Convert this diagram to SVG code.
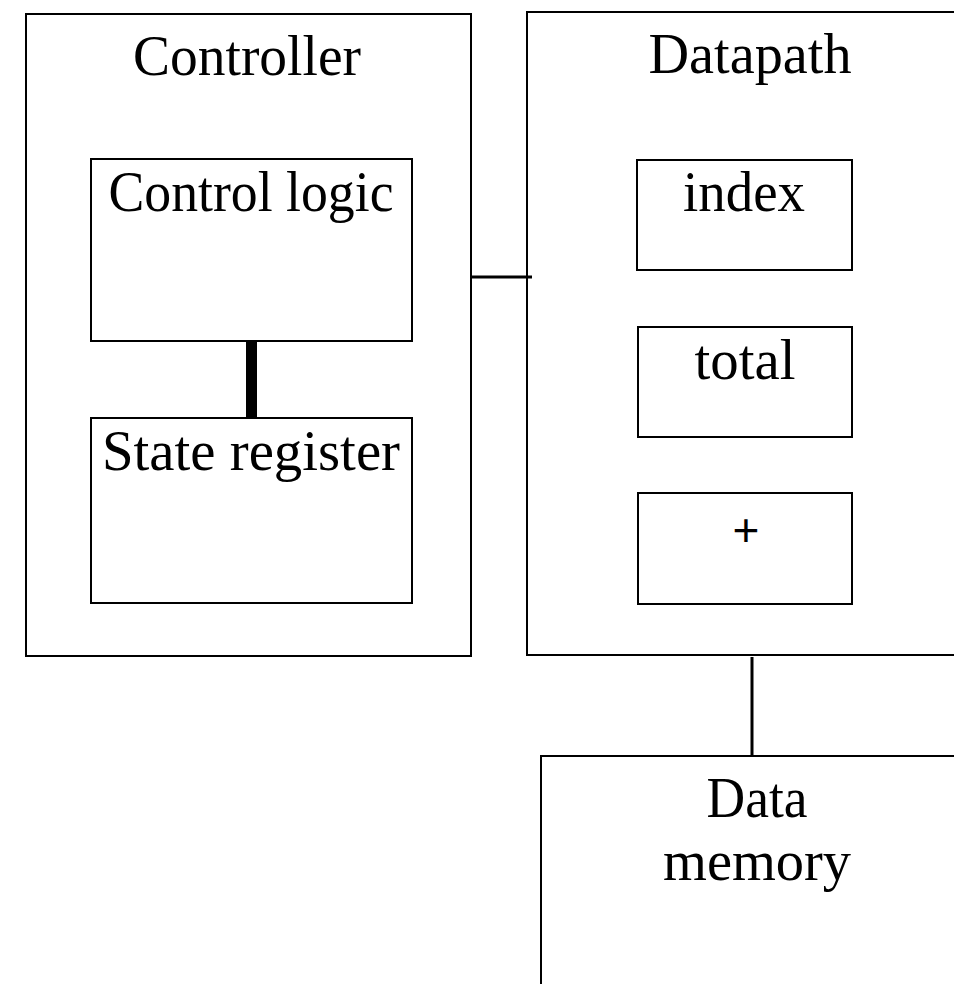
<svg xmlns="http://www.w3.org/2000/svg" width="954" height="984" viewBox="0 0 954 984">
<style>
.box{fill:#fff;stroke:#000;stroke-width:2}
.t{font-family:"Liberation Serif","DejaVu Serif",serif;font-size:56px;fill:#000;text-anchor:middle}
.p{font-family:"Liberation Sans","DejaVu Sans",sans-serif;font-size:46px;fill:#000;text-anchor:middle}
.c{stroke:#000;fill:none}
</style>
<rect width="954" height="984" fill="#fff"/>
<g id="controller">
<rect class="box" x="26" y="14" width="445" height="642"/>
<text class="t" x="247" y="75" textLength="228" lengthAdjust="spacingAndGlyphs">Controller</text>
</g>
<g id="control-logic">
<rect class="box" x="91" y="159" width="321" height="182"/>
<text class="t" x="251" y="211" textLength="285" lengthAdjust="spacingAndGlyphs">Control logic</text>
</g>
<g id="state-register">
<rect class="box" x="91" y="418" width="321" height="185"/>
<text class="t" x="251" y="470" textLength="298" lengthAdjust="spacingAndGlyphs">State register</text>
</g>
<g id="datapath">
<rect class="box" x="527" y="12" width="440" height="643"/>
<text class="t" x="750" y="73" textLength="203" lengthAdjust="spacingAndGlyphs">Datapath</text>
</g>
<g id="index">
<rect class="box" x="637" y="160" width="215" height="110"/>
<text class="t" x="744" y="211" textLength="122" lengthAdjust="spacingAndGlyphs">index</text>
</g>
<g id="total">
<rect class="box" x="638" y="327" width="214" height="110"/>
<text class="t" x="745" y="379" textLength="101" lengthAdjust="spacingAndGlyphs">total</text>
</g>
<g id="adder">
<rect class="box" x="638" y="493" width="214" height="111"/>
<text class="p" x="746" y="546">+</text>
</g>
<g id="data-memory">
<rect class="box" x="541" y="756" width="440" height="260"/>
<text class="t" x="757" y="817" textLength="101" lengthAdjust="spacingAndGlyphs">Data</text>
<text class="t" x="757" y="880" textLength="188" lengthAdjust="spacingAndGlyphs">memory</text>
</g>
<g id="connectors">
<line class="c" x1="251.5" y1="342" x2="251.5" y2="418" stroke-width="11"/>
<line class="c" x1="471" y1="277" x2="532" y2="277" stroke-width="3"/>
<line class="c" x1="752" y1="657" x2="752" y2="756" stroke-width="3"/>
</g>
</svg>
